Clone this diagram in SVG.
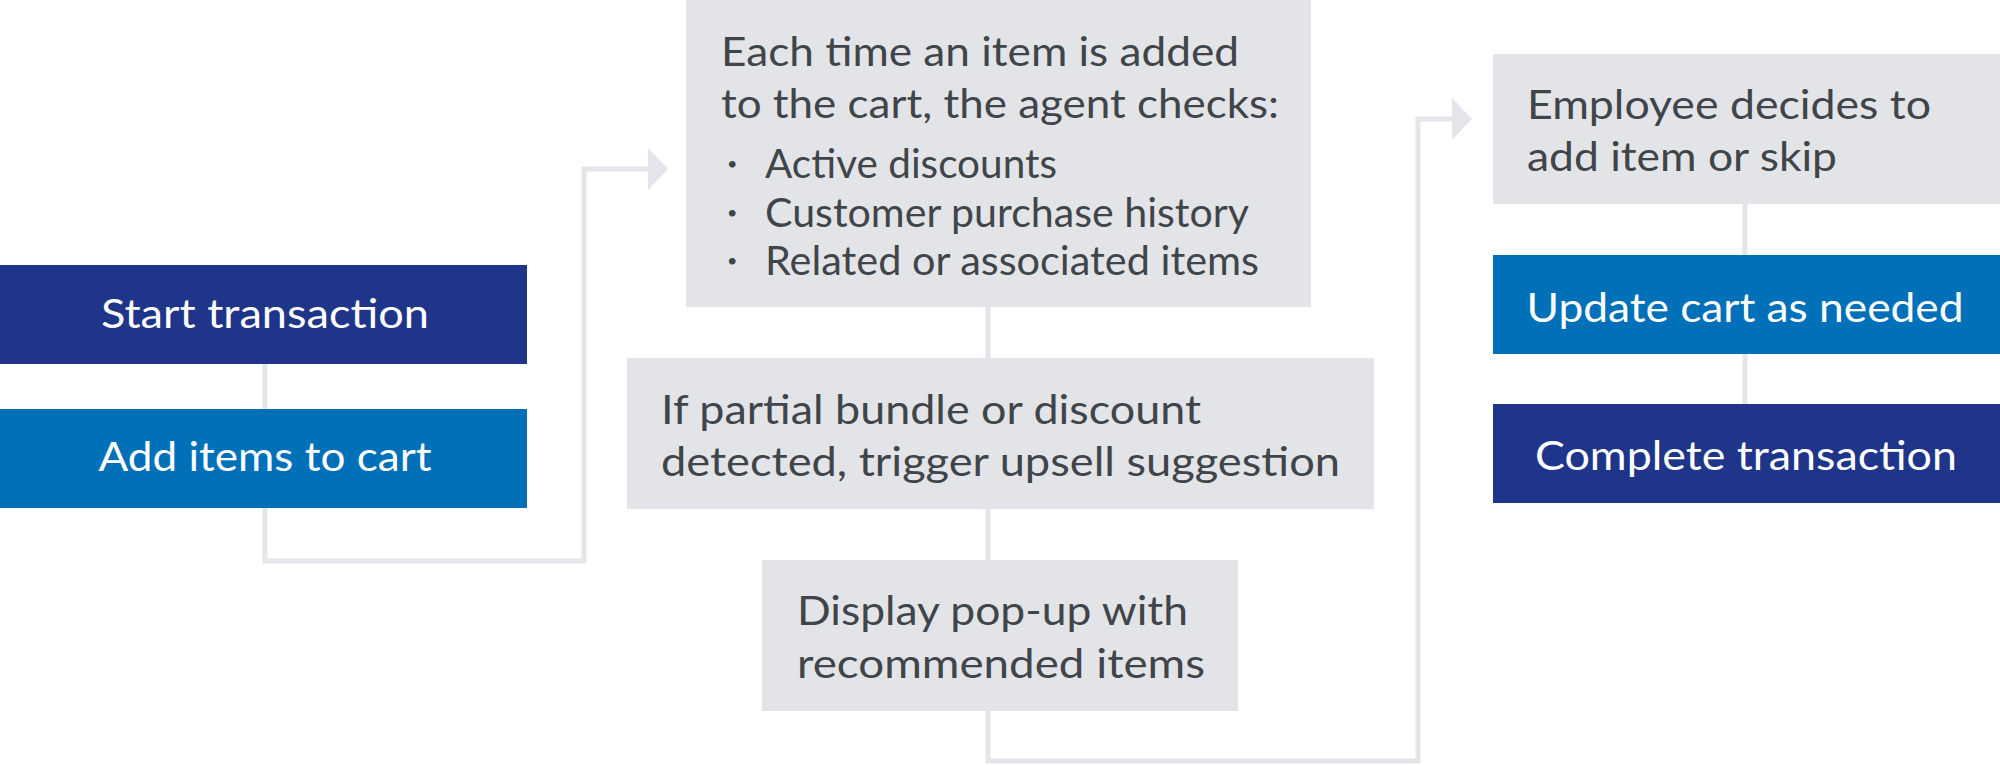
<svg xmlns="http://www.w3.org/2000/svg" width="2000" height="765" viewBox="0 0 2000 765">
<defs>
<style>
.navy{fill:#1f358a}
.blue{fill:#0070b8}
.grey{fill:#e3e4e8}
.t{font-family:Lato,"Liberation Sans",sans-serif;font-size:41px;font-weight:400}
.b{font-family:Lato,"Liberation Sans",sans-serif;font-size:18px}
.w{fill:#ffffff}
.d{fill:#3f4548}
.c{fill:none;stroke:#e4e5ea;stroke-width:5;stroke-linejoin:miter}
</style>
<marker id="ah" markerUnits="userSpaceOnUse" markerWidth="22" markerHeight="42" refX="2" refY="21" orient="auto">
<path d="M0,0 L20,21 L0,42 Z" fill="#e4e5ea"/>
</marker>
</defs>
<rect width="2000" height="765" fill="#ffffff"/>
<g id="connectors">
<path class="c" d="M265,364 V561 H584 V169 H650" marker-end="url(#ah)"/>
<path class="c" d="M988,307 V761 H1418 V119 H1454" marker-end="url(#ah)"/>
<path class="c" d="M1745,204 V404"/>
</g>
<g id="start">
<rect class="navy" x="0" y="265" width="527" height="99"/>
<text class="t w" x="265" y="328" text-anchor="middle" textLength="328" lengthAdjust="spacingAndGlyphs">Start transaction</text>
</g>
<g id="add">
<rect class="blue" x="0" y="409" width="527" height="99"/>
<text class="t w" x="265" y="471" text-anchor="middle" textLength="333" lengthAdjust="spacingAndGlyphs">Add items to cart</text>
</g>
<g id="check">
<rect class="grey" x="686" y="0" width="625" height="307"/>
<text class="t d" x="721" y="66" textLength="518" lengthAdjust="spacingAndGlyphs">Each time an item is added</text>
<text class="t d" x="721" y="118" textLength="558" lengthAdjust="spacingAndGlyphs">to the cart, the agent checks:</text>
<text class="b d" x="727" y="170">•</text>
<text class="t d" x="765" y="178" textLength="292" lengthAdjust="spacingAndGlyphs">Active discounts</text>
<text class="b d" x="727" y="219">•</text>
<text class="t d" x="765" y="227" textLength="484" lengthAdjust="spacingAndGlyphs">Customer purchase history</text>
<text class="b d" x="727" y="267">•</text>
<text class="t d" x="765" y="275" textLength="494" lengthAdjust="spacingAndGlyphs">Related or associated items</text>
</g>
<g id="trigger">
<rect class="grey" x="627" y="358" width="747" height="151"/>
<text class="t d" x="661" y="424" textLength="540" lengthAdjust="spacingAndGlyphs">If partial bundle or discount</text>
<text class="t d" x="661" y="476" textLength="679" lengthAdjust="spacingAndGlyphs">detected, trigger upsell suggestion</text>
</g>
<g id="popup">
<rect class="grey" x="762" y="560" width="476" height="151"/>
<text class="t d" x="797" y="625" textLength="391" lengthAdjust="spacingAndGlyphs">Display pop-up with</text>
<text class="t d" x="797" y="678" textLength="408" lengthAdjust="spacingAndGlyphs">recommended items</text>
</g>
<g id="decide">
<rect class="grey" x="1493" y="54" width="507" height="150"/>
<text class="t d" x="1527" y="119" textLength="404" lengthAdjust="spacingAndGlyphs">Employee decides to</text>
<text class="t d" x="1527" y="171" textLength="310" lengthAdjust="spacingAndGlyphs">add item or skip</text>
</g>
<g id="update">
<rect class="blue" x="1493" y="255" width="507" height="99"/>
<text class="t w" x="1745" y="322" text-anchor="middle" textLength="437" lengthAdjust="spacingAndGlyphs">Update cart as needed</text>
</g>
<g id="complete">
<rect class="navy" x="1493" y="404" width="507" height="99"/>
<text class="t w" x="1746" y="470" text-anchor="middle" textLength="422" lengthAdjust="spacingAndGlyphs">Complete transaction</text>
</g>
</svg>
